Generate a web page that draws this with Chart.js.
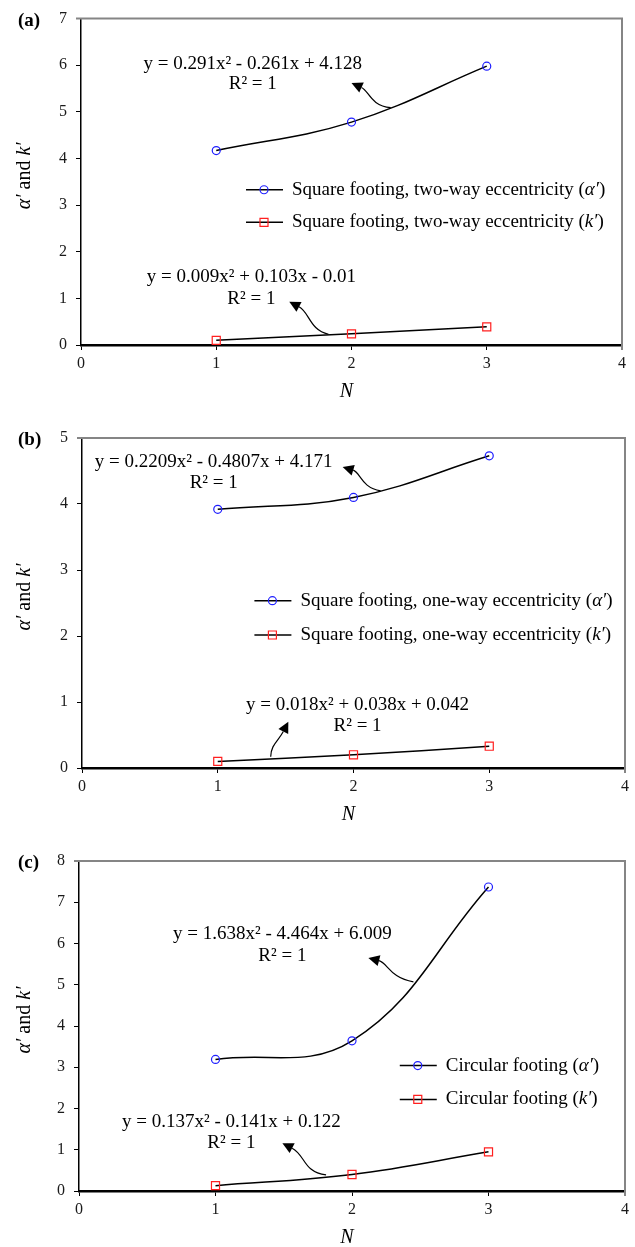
<!DOCTYPE html>
<html>
<head>
<meta charset="utf-8">
<script src="https://cdn.jsdelivr.net/npm/chart.js@4.4.1/dist/chart.umd.min.js"></script>
<style>
  body { margin: 0; background: #fff; }
  .panel { position: absolute; left: 0; width: 635px; }
</style>
</head>
<body>
<div class="panel" style="top:0px"><canvas id="chartA" width="635" height="400"></canvas></div>
<div class="panel" style="top:400px"><canvas id="chartB" width="635" height="430"></canvas></div>
<div class="panel" style="top:830px"><canvas id="chartC" width="635" height="417"></canvas></div>
<script>
// values
const nValues = [1, 2, 3];
const xTicks = [0, 1, 2, 3, 4];

const alphaA = [4.17, 4.78, 5.98];
const kA = [0.10, 0.24, 0.39];
const alphaB = [3.92, 4.10, 4.73];
const kB = [0.10, 0.20, 0.33];
const alphaC = [3.19, 3.64, 7.37];
const kC = [0.13, 0.40, 0.95];

const yMaxes = [7, 5, 8];
const panelTags = ['(a)', '(b)', '(c)'];
const legendNames = [
  'Square footing, two-way eccentricity',
  'Square footing, one-way eccentricity',
  'Circular footing'
];
const eqAlphaText = ['y = 0.291x² - 0.261x + 4.128', 'y = 0.2209x² - 0.4807x + 4.171', 'y = 1.638x² - 4.464x + 6.009'];
const eqKText = ['y = 0.009x² + 0.103x - 0.01', 'y = 0.018x² + 0.038x + 0.042', 'y = 0.137x² - 0.141x + 0.122'];

const FONT = '"Liberation Serif", "Times New Roman", serif';

// layout of each panel (chart area in canvas px) and annotation anchors in data units
const panels = [
  {
    canvas: 'chartA', h: 400, area: { l: 81, r: 622, t: 15, b: 345 },
    alpha: alphaA, k: kA,
    legend: [1.22, 3.33, 2.63],
    eqs: [[1.27, 6.03, 5.59], [1.26, 1.45, 0.98]],
    arrows: [
      [[2.29, 5.09], [2.14, 5.13], [2.13, 5.45], [2.0, 5.62]],
      [[1.83, 0.23], [1.69, 0.32], [1.69, 0.70], [1.54, 0.93]]
    ]
  },
  {
    canvas: 'chartB', h: 430, area: { l: 82, r: 625, t: 38, b: 368 },
    alpha: alphaB, k: kB,
    legend: [1.27, 2.535, 2.015],
    eqs: [[0.97, 4.64, 4.32], [2.03, 0.955, 0.63]],
    arrows: [
      [[2.2, 4.2], [2.06, 4.24], [2.05, 4.48], [1.92, 4.56]],
      [[1.39, 0.17], [1.39, 0.35], [1.45, 0.42], [1.52, 0.70]]
    ]
  },
  {
    canvas: 'chartC', h: 417, area: { l: 79, r: 625, t: 31, b: 361 },
    alpha: alphaC, k: kC,
    legend: [2.35, 3.04, 2.22],
    eqs: [[1.49, 6.23, 5.70], [1.116, 1.68, 1.156]],
    arrows: [
      [[2.45, 5.07], [2.28, 5.16], [2.26, 5.53], [2.12, 5.65]],
      [[1.81, 0.39], [1.64, 0.46], [1.66, 0.87], [1.49, 1.16]]
    ]
  }
];

const drawParts = (ctx, parts, x, y, size, align) => {
  let w = 0;
  parts.forEach(p => {
    ctx.font = (p[1] ? 'italic ' : '') + size + 'px ' + FONT;
    w += ctx.measureText(p[0]).width;
  });
  let cx = align === 'center' ? x - w / 2 : x;
  ctx.textAlign = 'left';
  parts.forEach(p => {
    ctx.font = (p[1] ? 'italic ' : '') + size + 'px ' + FONT;
    ctx.fillText(p[0], cx, y);
    cx += ctx.measureText(p[0]).width;
  });
};

const decorPlugin = {
  id: 'decor',
  afterDraw: (chart) => {
    const { ctx, chartArea: ca, scales: { x, y } } = chart;
    const p = chart.options.plugins.decor;
    const px = v => x.getPixelForValue(v);
    const py = v => y.getPixelForValue(v);
    ctx.save();
    // top and right frame
    ctx.strokeStyle = '#858585';
    ctx.lineWidth = 2;
    ctx.beginPath();
    ctx.moveTo(ca.left - 5, ca.top);
    ctx.lineTo(ca.right, ca.top);
    ctx.lineTo(ca.right, ca.bottom + 5);
    ctx.stroke();

    ctx.fillStyle = '#000';
    ctx.textBaseline = 'middle';
    // panel tag
    ctx.font = 'bold 19px ' + FONT;
    ctx.textAlign = 'left';
    ctx.fillText(p.tag, 18, ca.top + 2);

    // axis titles
    drawParts(ctx, [['N', true]], (ca.left + ca.right) / 2 - 5, ca.bottom + 47, 20, 'center');
    ctx.save();
    ctx.translate(25, (ca.top + ca.bottom) / 2 - 6);
    ctx.rotate(-Math.PI / 2);
    drawParts(ctx, [['α′', true], [' and ', false], ['k′', true]], 0, 0, 20, 'center');
    ctx.restore();

    // equations
    p.eqs.forEach((e, i) => {
      drawParts(ctx, [[p.eqText[i], false]], px(e[0]), py(e[1]), 19, 'center');
      drawParts(ctx, [['R² = 1', false]], px(e[0]), py(e[2]), 19, 'center');
    });

    // curved arrows
    p.arrows.forEach(a => {
      const pts = a.map(q => [px(q[0]), py(q[1])]);
      const dx = pts[3][0] - pts[2][0], dy = pts[3][1] - pts[2][1];
      const len = Math.hypot(dx, dy);
      const ux = dx / len, uy = dy / len;
      const hl = 11, hw = 5.5;
      const bx = pts[3][0] - ux * hl, by = pts[3][1] - uy * hl;
      ctx.strokeStyle = '#000';
      ctx.lineWidth = 1.2;
      ctx.beginPath();
      ctx.moveTo(pts[0][0], pts[0][1]);
      ctx.bezierCurveTo(pts[1][0], pts[1][1], pts[2][0], pts[2][1], bx, by);
      ctx.stroke();
      ctx.beginPath();
      ctx.moveTo(pts[3][0], pts[3][1]);
      ctx.lineTo(bx - uy * hw, by + ux * hw);
      ctx.lineTo(bx + uy * hw, by - ux * hw);
      ctx.closePath();
      ctx.fill();
    });

    // legend
    const lx = px(p.legend[0]);
    [['α′', 1], ['k′', 2]].forEach((row, i) => {
      const ds = chart.data.datasets[i];
      const ly = py(p.legend[row[1]]);
      ctx.strokeStyle = '#000';
      ctx.lineWidth = 1.5;
      ctx.beginPath();
      ctx.moveTo(lx, ly);
      ctx.lineTo(lx + 37, ly);
      ctx.stroke();
      ctx.strokeStyle = ds.pointBorderColor;
      ctx.lineWidth = 1.2;
      ctx.beginPath();
      if (ds.pointStyle === 'circle') {
        ctx.arc(lx + 18, ly, 4, 0, Math.PI * 2);
      } else {
        ctx.rect(lx + 14, ly - 4, 8, 8);
      }
      ctx.stroke();
      ctx.fillStyle = '#000';
      drawParts(ctx, [[p.name + ' (', false], [row[0], true], [')', false]], lx + 46, ly, 19, 'left');
    });
    ctx.restore();
  }
};

const makeChart = (cfg, idx) => {
  const ar = cfg.area;
  const yTicks = [];
  for (let v = 0; v <= yMaxes[idx]; v++) yTicks.push(v);
  const tickFont = { family: FONT, size: 16 };
  return new Chart(document.getElementById(cfg.canvas), {
    type: 'line',
    data: {
      datasets: [
        {
          label: legendNames[idx] + " (α′)",
          data: nValues.map((n, i) => ({ x: n, y: cfg.alpha[i] })),
          borderColor: '#000',
          borderWidth: 1.5,
          tension: 0.4,
          pointStyle: 'circle',
          pointRadius: 4,
          pointBorderWidth: 1.2,
          pointBorderColor: '#1f1fff',
          pointBackgroundColor: 'rgba(0,0,0,0)'
        },
        {
          label: legendNames[idx] + " (k′)",
          data: nValues.map((n, i) => ({ x: n, y: cfg.k[i] })),
          borderColor: '#000',
          borderWidth: 1.5,
          tension: 0.4,
          pointStyle: 'rect',
          pointRadius: 5.7,
          pointBorderWidth: 1.2,
          pointBorderColor: '#ff1f1f',
          pointBackgroundColor: 'rgba(0,0,0,0)'
        }
      ]
    },
    options: {
      responsive: false,
      animation: false,
      devicePixelRatio: 1,
      layout: { padding: { left: 0, top: ar.t, right: 635 - ar.r, bottom: 0 } },
      scales: {
        x: {
          type: 'linear', min: 0, max: 4,
          afterBuildTicks: s => { s.ticks = xTicks.map(v => ({ value: v })); },
          afterFit: s => { s.height = cfg.h - ar.b; },
          grid: { drawOnChartArea: false, drawTicks: true, tickLength: 5, color: '#000' },
          border: { display: true, color: '#000', width: 2.5 },
          ticks: { font: tickFont, color: '#1a1a1a', padding: 4, maxRotation: 0 }
        },
        y: {
          type: 'linear', min: 0, max: yMaxes[idx],
          afterBuildTicks: s => { s.ticks = yTicks.map(v => ({ value: v })); },
          afterFit: s => { s.width = ar.l; },
          grid: { drawOnChartArea: false, drawTicks: true, tickLength: 5, color: '#000' },
          border: { display: true, color: '#000', width: 1.5 },
          ticks: { font: tickFont, color: '#1a1a1a', padding: 9 }
        }
      },
      plugins: {
        legend: { display: false },
        tooltip: { enabled: false },
        decor: {
          tag: panelTags[idx],
          name: legendNames[idx],
          eqText: [eqAlphaText[idx], eqKText[idx]],
          eqs: cfg.eqs,
          arrows: cfg.arrows,
          legend: cfg.legend
        }
      }
    },
    plugins: [decorPlugin]
  });
};

panels.forEach((p, i) => makeChart(p, i));
</script>
</body>
</html>
